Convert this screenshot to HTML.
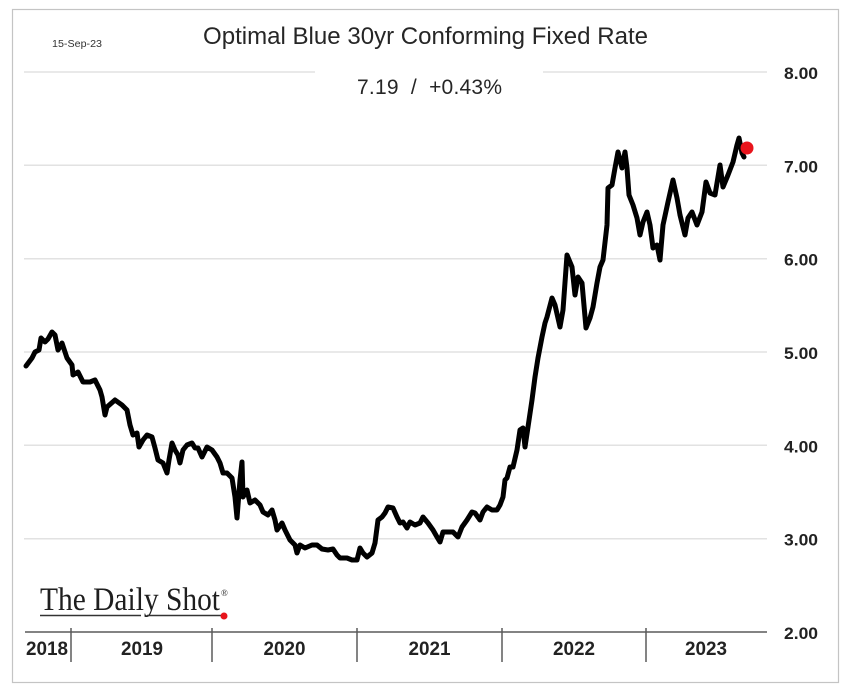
<!DOCTYPE html>
<html>
<head>
<meta charset="utf-8">
<style>
  html, body { margin: 0; padding: 0; background: #ffffff; }
  svg { display: block; }
</style>
</head>
<body>
<svg width="845" height="696" viewBox="0 0 845 696" xmlns="http://www.w3.org/2000/svg">
  <rect x="0" y="0" width="845" height="696" fill="#ffffff"/>
  <!-- frame -->
  <rect x="12.5" y="9.5" width="826" height="673" fill="none" stroke="#c4c4c4" stroke-width="1.2"/>

  <!-- gridlines -->
  <g stroke="#e2e2e2" stroke-width="1.5">
    <line x1="24" y1="72" x2="315" y2="72"/>
    <line x1="543" y1="72" x2="767" y2="72"/>
    <line x1="24" y1="165.3" x2="767" y2="165.3"/>
    <line x1="24" y1="258.7" x2="767" y2="258.7"/>
    <line x1="24" y1="352" x2="767" y2="352"/>
    <line x1="24" y1="445.3" x2="767" y2="445.3"/>
    <line x1="24" y1="538.7" x2="767" y2="538.7"/>
  </g>

  <!-- x axis -->
  <line x1="25" y1="632" x2="767" y2="632" stroke="#5a5a5a" stroke-width="1.6"/>
  <g stroke="#5a5a5a" stroke-width="1.5">
    <line x1="71" y1="628" x2="71" y2="662"/>
    <line x1="212" y1="628" x2="212" y2="662"/>
    <line x1="357" y1="628" x2="357" y2="662"/>
    <line x1="502" y1="628" x2="502" y2="662"/>
    <line x1="646" y1="628" x2="646" y2="662"/>
  </g>

  <!-- year labels -->
  <g font-family="'Liberation Sans', Arial, sans-serif" font-weight="bold" font-size="19" fill="#222" text-anchor="middle">
    <text x="47" y="655" textLength="42" lengthAdjust="spacingAndGlyphs">2018</text>
    <text x="142" y="655" textLength="42" lengthAdjust="spacingAndGlyphs">2019</text>
    <text x="284.5" y="655" textLength="42" lengthAdjust="spacingAndGlyphs">2020</text>
    <text x="429.5" y="655" textLength="42" lengthAdjust="spacingAndGlyphs">2021</text>
    <text x="574" y="655" textLength="42" lengthAdjust="spacingAndGlyphs">2022</text>
    <text x="706" y="655" textLength="42" lengthAdjust="spacingAndGlyphs">2023</text>
  </g>

  <!-- y axis labels -->
  <g font-family="'Liberation Sans', Arial, sans-serif" font-weight="bold" font-size="17" fill="#222">
    <text x="784" y="79" textLength="34" lengthAdjust="spacingAndGlyphs">8.00</text>
    <text x="784" y="172.3" textLength="34" lengthAdjust="spacingAndGlyphs">7.00</text>
    <text x="784" y="265.7" textLength="34" lengthAdjust="spacingAndGlyphs">6.00</text>
    <text x="784" y="359" textLength="34" lengthAdjust="spacingAndGlyphs">5.00</text>
    <text x="784" y="452.3" textLength="34" lengthAdjust="spacingAndGlyphs">4.00</text>
    <text x="784" y="545.7" textLength="34" lengthAdjust="spacingAndGlyphs">3.00</text>
    <text x="784" y="639" textLength="34" lengthAdjust="spacingAndGlyphs">2.00</text>
  </g>

  <!-- titles -->
  <text x="203" y="44" font-family="'Liberation Sans', Arial, sans-serif" font-size="24" fill="#262626" textLength="445" lengthAdjust="spacingAndGlyphs">Optimal Blue 30yr Conforming Fixed Rate</text>
  <text x="357" y="94" font-family="'Liberation Sans', Arial, sans-serif" font-size="21" fill="#262626" textLength="145" lengthAdjust="spacing" xml:space="preserve">7.19  /  +0.43%</text>
  <text x="52" y="47" font-family="'Liberation Sans', Arial, sans-serif" font-size="10" fill="#333" textLength="50" lengthAdjust="spacingAndGlyphs">15-Sep-23</text>

  <!-- data series -->
  <polyline fill="none" stroke="#000" stroke-width="5" stroke-linejoin="round" stroke-linecap="round"
    points="26,366 32,358 35,352 39,350 41,338 45,342 48,339 52,332 55,335 58,350 62,343 67,358 72,365 73,375 78,372 83,382 90,382 95,380 100,390 102,397 105,415 107,407 115,400 122,405 127,410 130,425 133,435 137,433 139,447 143,440 147,435 152,437 155,448 158,460 163,463 167,473 169,460 172,443 175,450 178,455 180,463 183,450 187,445 192,443 195,448 198,448 202,457 207,447 212,450 217,457 220,463 223,473 227,473 232,478 235,497 237,518 240,480 242,462 243,497 247,490 250,503 255,500 260,505 263,512 268,515 272,510 275,520 277,530 282,523 285,530 290,540 295,545 297,553 300,545 305,548 312,545 317,545 322,549 328,550 333,549 337,555 340,558 347,558 352,560 357,560 360,548 363,553 367,557 372,553 375,543 378,520 382,517 385,513 388,507 393,508 397,517 400,523 403,522 407,528 410,522 415,525 420,523 423,517 428,523 433,530 437,537 440,542 443,532 448,532 453,532 458,537 462,527 467,520 472,512 475,513 480,520 483,512 487,507 492,510 497,510 500,505 503,497 505,480 507,478 510,467 513,467 517,450 520,430 523,428 525,447 528,427 532,400 535,377 538,358 542,337 545,323 547,317 552,298 555,305 560,327 563,310 567,255 572,267 575,295 578,277 582,283 586,328 590,318 593,307 597,283 600,267 603,260 607,225 608,188 612,185 615,168 618,152 622,168 625,152 627,168 629,195 633,205 637,218 640,235 643,222 647,212 650,225 653,248 657,245 660,260 663,225 668,202 673,180 677,198 680,215 685,235 688,218 692,212 697,225 702,212 706,182 710,193 715,195 720,165 723,187 728,175 733,162 737,145 739,138 742,153 744,157"/>
  <circle cx="747" cy="148" r="6.5" fill="#e8141c"/>

  <!-- logo -->
  <text x="40" y="610" font-family="'Liberation Serif', 'Times New Roman', serif" font-size="33" fill="#1e1e1e" textLength="180" lengthAdjust="spacingAndGlyphs">The Daily Shot</text>
  <text x="221" y="596" font-family="'Liberation Serif', serif" font-size="9" fill="#222">®</text>
  <g stroke="#333" stroke-width="1.5">
    <line x1="40" y1="615.5" x2="141" y2="615.5"/>
    <line x1="147" y1="615.5" x2="221" y2="615.5"/>
  </g>
  <circle cx="224" cy="616" r="3.5" fill="#e8141c"/>
</svg>
</body>
</html>
